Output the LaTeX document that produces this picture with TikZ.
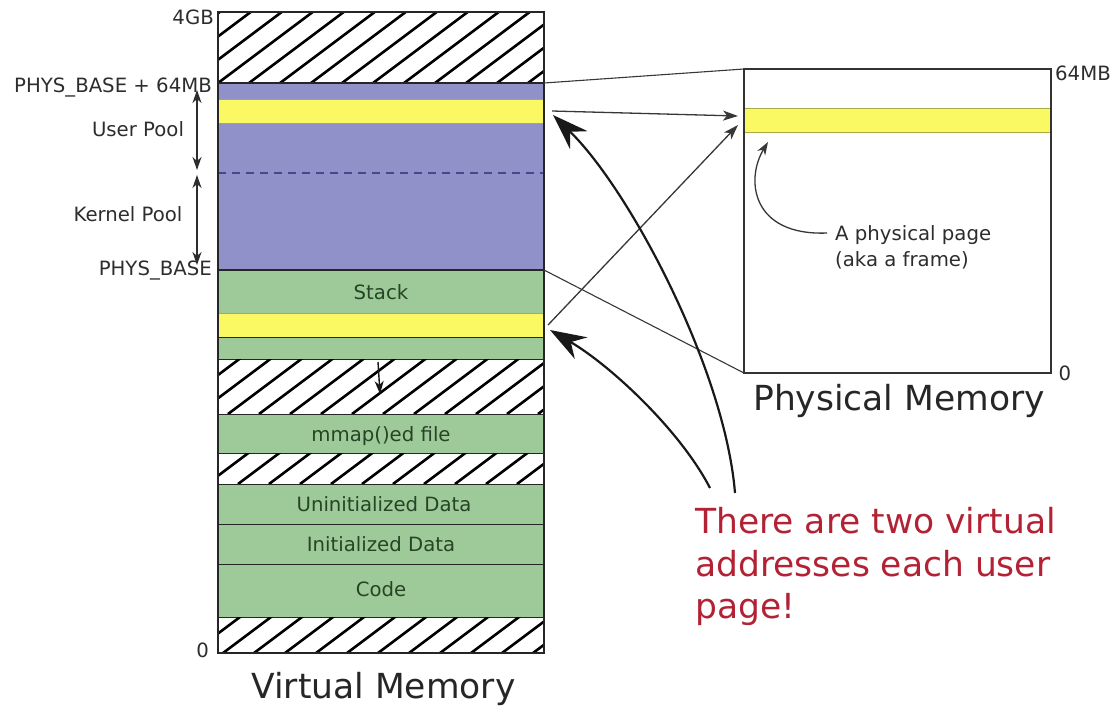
\documentclass[tikz,border=0pt]{standalone}
\usepackage{fontspec}
\setmainfont{DejaVu Sans}
\usetikzlibrary{arrows.meta}
\definecolor{vblue}{RGB}{143,145,200}
\definecolor{vgreen}{RGB}{158,202,153}
\definecolor{vyellow}{RGB}{250,249,100}
\definecolor{yedge}{RGB}{170,170,70}
\definecolor{lblgray}{RGB}{45,45,45}
\definecolor{lblgreen}{RGB}{38,68,38}
\definecolor{dashblue}{RGB}{70,72,140}
\definecolor{linegray}{RGB}{55,55,55}
\definecolor{redtxt}{RGB}{178,34,52}
\newcommand{\hatchband}[3]{%
  \begin{scope}
    \clip (218,#1) rectangle (544,#2);
    \foreach \k in {-5,...,12}{
      \draw[hatchline] ({218+#3+\k*31},#2) -- ++(130,-97.5);
    }
  \end{scope}}
\begin{document}
\begin{tikzpicture}[x=1pt,y=-1pt,
  region/.style={draw=black!85, line width=1pt, minimum width=326pt, anchor=north west, inner sep=0pt, outer sep=0pt},
  page/.style={region, fill=vyellow, draw=yedge, line width=0.8pt},
  hatchline/.style={line width=2.6pt, black},
  small/.style={font=\fontsize{19.7pt}{24pt}\selectfont, text=lblgray, inner sep=0pt},
  seglabel/.style={font=\fontsize{19.7pt}{24pt}\selectfont, text=lblgreen, inner sep=0pt, anchor=base},
  big/.style={font=\fontsize{34.5pt}{42.5pt}\selectfont, text=black!85, inner sep=0pt, anchor=base},
  redlabel/.style={font=\fontsize{34.5pt}{42.5pt}\selectfont, text=redtxt, inner sep=0pt, anchor=base west},
  mapline/.style={linegray, line width=1.1pt},
  thinarrow/.style={linegray, line width=1.3pt, -{Stealth[length=15pt,width=10pt,inset=4pt]}},
  dblarrow/.style={lblgray, line width=1.3pt, {Stealth[length=13pt,width=9pt,inset=4pt]}-{Stealth[length=13pt,width=9pt,inset=4pt]}},
  bigarrow/.style={black!90, line width=2.2pt, -{Stealth[length=36pt,width=25pt,inset=12pt]}}
]
\useasboundingbox (0,0) rectangle (1113,705);

% ---------- virtual memory regions ----------
\node[region, fill=white, minimum height=71pt] (htop) at (218,12) {};
\hatchband{12}{83}{0}
\node[region, fill=vblue, minimum height=187pt] (vblue) at (218,83) {};
\node[page, minimum height=24pt] (vpage1) at (218,99) {};
\draw[dashblue, line width=1.3pt, dash pattern=on 8pt off 6pt] (vblue.west |- 0,173) -- (vblue.east |- 0,173);
\node[region, fill=vgreen, minimum height=43pt] (stack) at (218,270) {};
\node[page, minimum height=24pt] (vpage2) at (218,313) {};
\node[region, fill=vgreen, minimum height=22pt] (stackrest) at (218,337) {};
\node[region, fill=white, minimum height=55pt] (hgap1) at (218,359) {};
\hatchband{359}{414}{10}
\node[region, fill=vgreen, minimum height=39pt] (mmap) at (218,414) {};
\node[region, fill=white, minimum height=31pt] (hgap2) at (218,453) {};
\hatchband{453}{484}{20}
\node[region, fill=vgreen, minimum height=40pt] (bss) at (218,484) {};
\node[region, fill=vgreen, minimum height=40pt] (idata) at (218,524) {};
\node[region, fill=vgreen, minimum height=53pt] (code) at (218,564) {};
\node[region, fill=white, minimum height=36pt] (hbot) at (218,617) {};
\hatchband{617}{653}{5}
\draw[black!85, line width=2pt] (218,83) -- (544,83);
\draw[black!85, line width=2pt] (218,270) -- (544,270);
\draw[black!85, line width=2pt] (218,12) rectangle (544,653);

% segment labels
\node[seglabel] (lstack) at (381,299) {Stack};
\node[seglabel] (lmmap) at (381,441) {mmap()ed file};
\node[seglabel] (lbss) at (384,511) {Uninitialized Data};
\node[seglabel] (ldata) at (381,551) {Initialized Data};
\node[seglabel] (lcode) at (381,596) {Code};

% stack growth arrow
\coordinate (sg1) at (378,362);
\coordinate (sg2) at (380,394);
\draw[black!90, line width=1.4pt, -{Stealth[length=13pt,width=9pt,inset=4pt]}] (sg1) -- (sg2);

% left labels
\node[small, anchor=base east] (l4gb) at (214,24) {4GB};
\node[small, anchor=base east] (lpb64) at (212,92) {PHYS\_BASE + 64MB};
\node[small, anchor=base] (luser) at (138,136) {User Pool};
\node[small, anchor=base] (lkern) at (128,221) {Kernel Pool};
\node[small, anchor=base east] (lpb) at (212,275) {PHYS\_BASE};
\node[small, anchor=base east] (lzero) at (209,657) {0};
\coordinate (ua) at (197,90);
\coordinate (ub) at (197,170);
\coordinate (ka) at (197,175);
\coordinate (kb) at (197,265);
\draw[dblarrow] (ua) -- (ub);
\draw[dblarrow] (ka) -- (kb);

\node[big] (vmtitle) at (383.5,698) {Virtual Memory};

% ---------- physical memory ----------
\node[draw=black!80, line width=1.8pt, fill=white, minimum width=307pt, minimum height=304pt, anchor=north west, inner sep=0pt, outer sep=0pt] (pbox) at (744,69) {};
\node[page, minimum width=307pt, minimum height=24pt] (ppage) at (744,108) {};
\draw[black!80, line width=1.8pt] (pbox.north west) rectangle (pbox.south east);
\node[small, anchor=base west] (l64) at (1055,80) {64MB};
\node[small, anchor=base] (lpzero) at (1065,380) {0};
\node[big] (pmtitle) at (899,410) {Physical Memory};
\node[small, anchor=base west] (pt1) at (835,240) {A physical page};
\node[small, anchor=base west] (pt2) at (835,266) {(aka a frame)};
\draw[linegray, line width=1.3pt, -{Stealth[length=13pt,width=9pt,inset=4pt]}]
  ([xshift=-8pt,yshift=7pt]pt1.base west) .. controls (752,236) and (745,180) .. ([xshift=24pt,yshift=-10pt]ppage.south west);

% mapping lines
\draw[mapline] (vblue.north east) -- (pbox.north west);
\draw[mapline] (vblue.south east) -- (pbox.south west);
\draw[thinarrow] ([xshift=8pt]vpage1.east) -- ([xshift=-6pt,yshift=4pt]ppage.west);
\draw[thinarrow] ([xshift=4pt]vpage2.east) -- ([xshift=-6pt,yshift=-5pt]ppage.west);

% red note and big curved arrows
\node[redlabel] (r1) at (695,533) {There are two virtual};
\node[redlabel] (r2) at (695,576) {addresses each user};
\node[redlabel] (r3) at (695,618) {page!};
\coordinate (c1) at (735,493);
\coordinate (c2) at (710,488);
\draw[bigarrow] (c1) .. controls (725,370) and (630,190) .. ([xshift=9pt,yshift=-4pt]vpage1.east);
\draw[bigarrow] (c2) .. controls (680,430) and (610,365) .. ([xshift=6pt,yshift=-5pt]vpage2.east);
\end{tikzpicture}
\end{document}
